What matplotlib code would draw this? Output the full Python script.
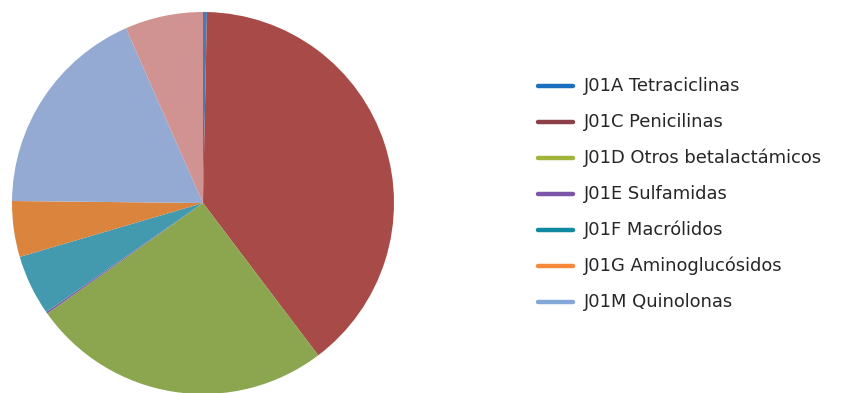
import matplotlib
matplotlib.use("Agg")
import matplotlib.pyplot as plt
from matplotlib.lines import Line2D

# Consumo de antibióticos por subgrupo (%)
categorias = [
    'J01A Tetraciclinas',
    'J01C Penicilinas',
    'J01D Otros betalactámicos',
    'J01E Sulfamidas',
    'J01F Macrólidos',
    'J01G Aminoglucósidos',
    'J01M Quinolonas',
    'J01X Otros',
]
valores = [0.33, 39.36, 25.47, 0.17, 5.11, 4.72, 18.22, 6.61]

colores_sector = ['#4a7ab5', '#a84a47', '#8ba64e', '#8064a2',
                  '#4399ae', '#db843d', '#94aad3', '#d19392']
colores_leyenda = ['#1a6fbf', '#8b4047', '#a3b43c', '#7a55a8',
                   '#0f8aa0', '#f5883a', '#84a7d9']

W, H = 842, 393
fig = plt.figure(figsize=(W / 100, H / 100), dpi=100)

cx, cy, r = 203, 203, 191
ax = fig.add_axes([(cx - r) / W, (H - cy - r) / H, 2 * r / W, 2 * r / H])
ax.pie(valores, colors=colores_sector, startangle=90, counterclock=False,
       radius=1.0, wedgeprops=dict(linewidth=0))
ax.set_xlim(-1, 1)
ax.set_ylim(-1, 1)
ax.set_aspect('equal')
ax.axis('off')

# Leyenda dibujada a mano (sólo los siete primeros subgrupos)
y0, paso = 86, 36
for i, (nombre, col) in enumerate(zip(categorias[:7], colores_leyenda)):
    y = (H - (y0 + i * paso)) / H
    fig.add_artist(Line2D([538 / W, 573 / W], [y, y], color=col, lw=3.2,
                          solid_capstyle='round', transform=fig.transFigure))
    fig.text(584 / W, y, nombre, fontsize=12.9, color='#262626',
             family='DejaVu Sans', va='center', ha='left')

fig.savefig('out.png', dpi=100)
